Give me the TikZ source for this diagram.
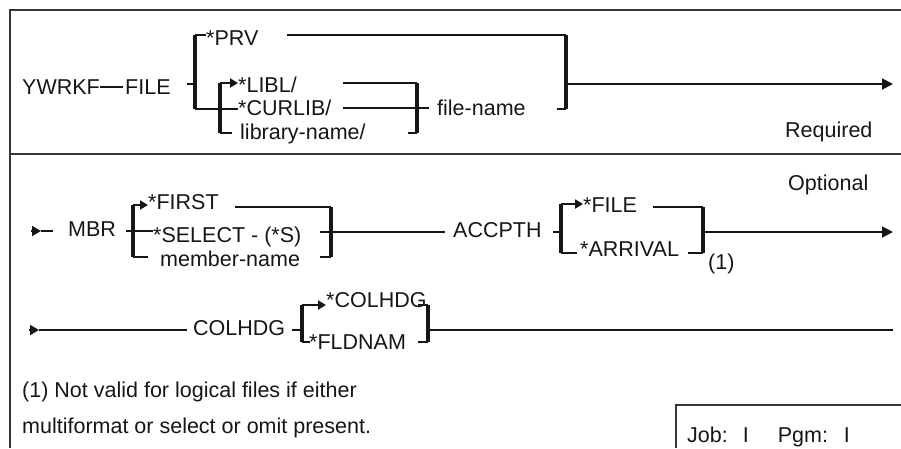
\documentclass[tikz,border=0pt]{standalone}
\usepackage{fontspec}
\setmainfont{Liberation Sans}
\usetikzlibrary{arrows.meta,positioning}
\definecolor{synink}{RGB}{22,22,22}
\definecolor{synframe}{RGB}{55,55,55}
\tikzset{
  kw/.style={anchor=base west, inner sep=0pt, font=\fontsize{21.5}{26}\selectfont, text=synink},
  rail/.style={line width=1.8pt, draw=synink},
  railarr/.style={rail, -{Triangle[length=11pt,width=11pt]}},
  optarr/.style={line width=2.2pt, draw=synink, -{Triangle[length=8pt,width=9pt]}},
  startarr/.style={rail, -{Triangle[length=9pt,width=10pt]}},
  brk/.style={line width=4pt, draw=synink},
  hook/.style={line width=2.4pt, draw=synink},
  boxline/.style={line width=2pt, draw=synframe}
}
\begin{document}
\begin{tikzpicture}[x=1pt,y=-1pt]
  \useasboundingbox (0,0) rectangle (901,448);
  % frame
  \coordinate (frbl) at (10,448);
  \coordinate (frtl) at (10,10);
  \coordinate (frtr) at (901,10);
  \coordinate (frml) at (10,154);
  \coordinate (frmr) at (901,154);
  \draw[boxline] (frbl) -- (frtl) -- (frtr);
  \draw[boxline] (frml) -- (frmr);

  % required part
  \node[kw] (ywrkf) at (22,94) {YWRKF};
  \node[kw] (file) at (125,94) {FILE};
  \node[kw] (prv) at (206,45) {*PRV};
  \node[kw] (libl) at (238,92) {*LIBL/};
  \node[kw] (curlib) at (238,115) {*CURLIB/};
  \node[kw] (libname) at (240,139) {library-name/};
  \node[kw] (filename) at (437,115) {file-name};
  \node[kw] (required) at (785,137) {Required};
  \draw[rail,shorten >=2pt] (ywrkf.east) -- (file.west);

  \coordinate (fa1) at (195,35);
  \coordinate (fa2) at (195,109);
  \coordinate (fain) at (187,84);
  \coordinate (fb1) at (220,83);
  \coordinate (fb2) at (220,133);
  \coordinate (fc1) at (417,83);
  \coordinate (fc2) at (417,133);
  \coordinate (fd1) at (566,35);
  \coordinate (fd2) at (566,109);
  \coordinate (fdout) at (566,84);
  \coordinate (fend) at (893,84);
  \coordinate (prvout) at (287,35);
  \coordinate (liblout) at (343,83);
  \coordinate (curlibout) at (343,108);
  \draw[brk] (fa1) -- (fa2);
  \draw[hook] (fa1) -- ++(11,0);
  \draw[rail] (fain) -- (fa1 |- fain);
  \draw[rail] (fa2) -- (curlib.west |- fa2);
  \draw[brk] (fb1) -- (fb2);
  \draw[optarr] (fb1) -- (libl.west |- fb1);
  \draw[hook] (fb2) -- ++(12,0);
  \draw[rail] (liblout) -- (fc1);
  \draw[brk] (fc1) -- (fc2);
  \draw[hook] (fc2) -- ++(-9,0);
  \draw[rail,shorten >=8pt] (curlibout) -- (filename.west |- curlibout);
  \draw[rail] (prvout) -- (fd1);
  \draw[brk] (fd1) -- (fd2);
  \draw[hook] (fd2) -- ++(-9,0);
  \draw[railarr] (fdout) -- (fend);

  % optional part, first line
  \node[kw] (optional) at (788,190) {Optional};
  \node[kw] (mbr) at (68,236) {MBR};
  \node[kw] (first) at (148,209) {*FIRST};
  \node[kw] (select) at (153,242) {*SELECT - (*S)};
  \node[kw] (member) at (160,266) {member-name};
  \node[kw] (accpth) at (453,237) {ACCPTH};
  \node[kw] (afile) at (583,212) {*FILE};
  \node[kw] (arrival) at (580,256) {*ARRIVAL};
  \node[kw] (note) at (708,269) {(1)};

  \coordinate (rtwo) at (31,231);
  \coordinate (rtwotip) at (41,231);
  \coordinate (rtwoin) at (53,231);
  \coordinate (me1) at (133,205);
  \coordinate (me2) at (133,257);
  \coordinate (mein) at (126,231);
  \coordinate (mf1) at (331,207);
  \coordinate (mf2) at (331,257);
  \coordinate (firstout) at (235,207);
  \coordinate (selectout) at (320,232);
  \coordinate (ag1) at (561,204);
  \coordinate (ag2) at (561,253);
  \coordinate (agin) at (553,232);
  \coordinate (ah1) at (703,207);
  \coordinate (ah2) at (703,253);
  \coordinate (ahout) at (703,232);
  \coordinate (afileout) at (653,207);
  \coordinate (rtwoend) at (893,232);
  \draw[startarr] (rtwo) -- (rtwotip);
  \draw[rail] (rtwotip) -- (rtwoin);
  \draw[brk] (me1) -- (me2);
  \draw[optarr] (me1) -- (first.west |- me1);
  \draw[rail] (mein) -- (select.west |- mein);
  \draw[hook] (me2) -- ++(15,0);
  \draw[rail] (firstout) -- (mf1);
  \draw[brk] (mf1) -- (mf2);
  \draw[hook] (mf2) -- ++(-11,0);
  \draw[rail,shorten >=8pt] (selectout) -- (accpth.west |- selectout);
  \draw[rail] (agin) -- (ag1 |- agin);
  \draw[brk] (ag1) -- (ag2);
  \draw[optarr] (ag1) -- (afile.west |- ag1);
  \draw[hook] (ag2) -- ++(16,0);
  \draw[rail] (afileout) -- (ah1);
  \draw[brk] (ah1) -- (ah2);
  \draw[hook] (ah2) -- ++(-15,0);
  \draw[railarr] (ahout) -- (rtwoend);

  % optional part, second line
  \node[kw] (colhdg) at (193,335) {COLHDG};
  \node[kw] (starcol) at (326,307) {*COLHDG};
  \node[kw] (fldnam) at (309,349) {*FLDNAM};
  \coordinate (rthree) at (29,330);
  \coordinate (rthreetip) at (39,330);
  \coordinate (ci1) at (302,305);
  \coordinate (ci2) at (302,342);
  \coordinate (ciin) at (292,330);
  \coordinate (cj1) at (428,305);
  \coordinate (cj2) at (428,342);
  \coordinate (cjout) at (428,330);
  \coordinate (rthreeend) at (893,330);
  \draw[startarr] (rthree) -- (rthreetip);
  \draw[rail,shorten >=6pt] (rthreetip) -- (colhdg.west |- rthree);
  \draw[rail] (ciin) -- (ci1 |- ciin);
  \draw[brk] (ci1) -- (ci2);
  \draw[optarr] (ci1) -- (starcol.west |- ci1);
  \draw[hook] (ci2) -- ++(8,0);
  \draw[brk] (cj1) -- (cj2);
  \draw[hook] (cj1) -- ++(-10,0);
  \draw[hook] (cj2) -- ++(-10,0);
  \draw[rail] (cjout) -- (rthreeend);

  % footnote and job box
  \node[kw] (foot1) at (22,397) {(1) Not valid for logical files if either};
  \node[kw] (foot2) at (22,433) {multiformat or select or omit present.};
  \coordinate (jbl) at (676,448);
  \coordinate (jtr) at (901,405);
  \draw[boxline, line width=2.6pt] (jbl) |- (jtr);
  \node[kw] (job) at (687,442) {Job:\hspace{15pt}I\hspace{29pt}Pgm:\hspace{16pt}I};
\end{tikzpicture}
\end{document}
